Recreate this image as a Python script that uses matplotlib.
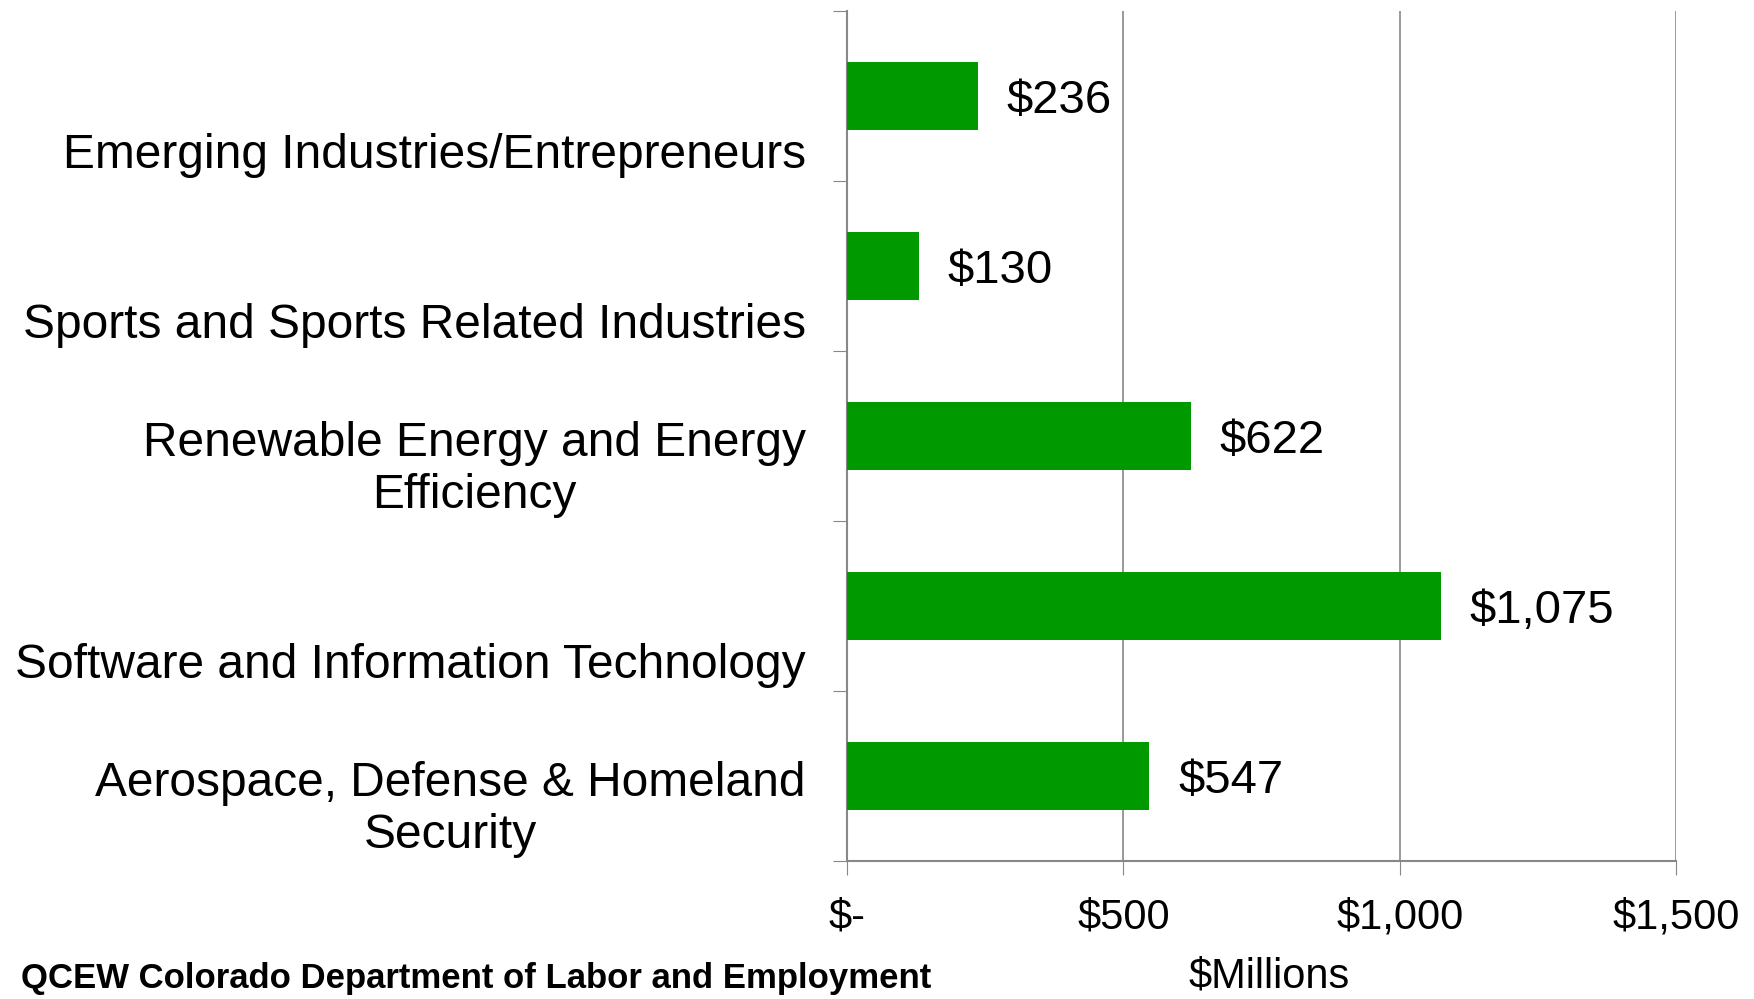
import numpy as np
import matplotlib
matplotlib.use("Agg")
import matplotlib.pyplot as plt

categories = ["Aerospace, Defense & Homeland\nSecurity",
              "Software and Information Technology",
              "Renewable Energy and Energy\nEfficiency",
              "Sports and Sports Related Industries",
              "Emerging Industries/Entrepreneurs"]
values = [547, 1075, 622, 130, 236]
value_labels = ["$547", "$1,075", "$622", "$130", "$236"]
x_ticks = [0, 500, 1000, 1500]
x_tick_labels = ["$-", "$500", "$1,000", "$1,500"]

plt.rcParams['font.family'] = ['Liberation Sans', 'DejaVu Sans']

fig = plt.figure(figsize=(17.54, 9.99), dpi=100)
ax = fig.add_axes([0.483, 0.138, 0.4725, 0.851])

y = np.arange(len(categories))
ax.barh(y, values, height=0.4, color='#009900', zorder=3)

for yi, v, lab in zip(y, values, value_labels):
    ax.text(v + 52, yi, lab, va='center_baseline', ha='left', fontsize=34)

ax.set_xlim(0, 1500)
ax.set_ylim(-0.5, len(categories) - 0.5)
ax.set_xticks(x_ticks)
ax.set_xticklabels(x_tick_labels, fontsize=30)
ax.tick_params(axis='x', length=10, color='#888888', pad=16)
ax.xaxis.grid(True, color='#888888', linewidth=1.2, zorder=0)

ax.set_yticks(np.arange(len(categories) + 1) - 0.5)
ax.set_yticklabels([])
ax.tick_params(axis='y', length=10, color='#888888')
for yi, cat in zip(y, categories):
    ax.text(-0.05 * 1500, yi - 0.48, cat, ha='right', va='bottom',
            fontsize=34.5, multialignment='center', linespacing=1.2)

for s in ['top', 'right']:
    ax.spines[s].set_visible(False)
for s in ['left', 'bottom']:
    ax.spines[s].set_color('#888888')
    ax.spines[s].set_linewidth(1.5)

ax.set_xlabel("$Millions", fontsize=30, va='center')
ax.xaxis.set_label_coords(0.509, -0.136)
fig.text(0.012, 0.021, "QCEW Colorado Department of Labor and Employment",
         fontsize=25, fontweight='bold', ha='left', va='center')

fig.savefig("out.png", dpi=100)
